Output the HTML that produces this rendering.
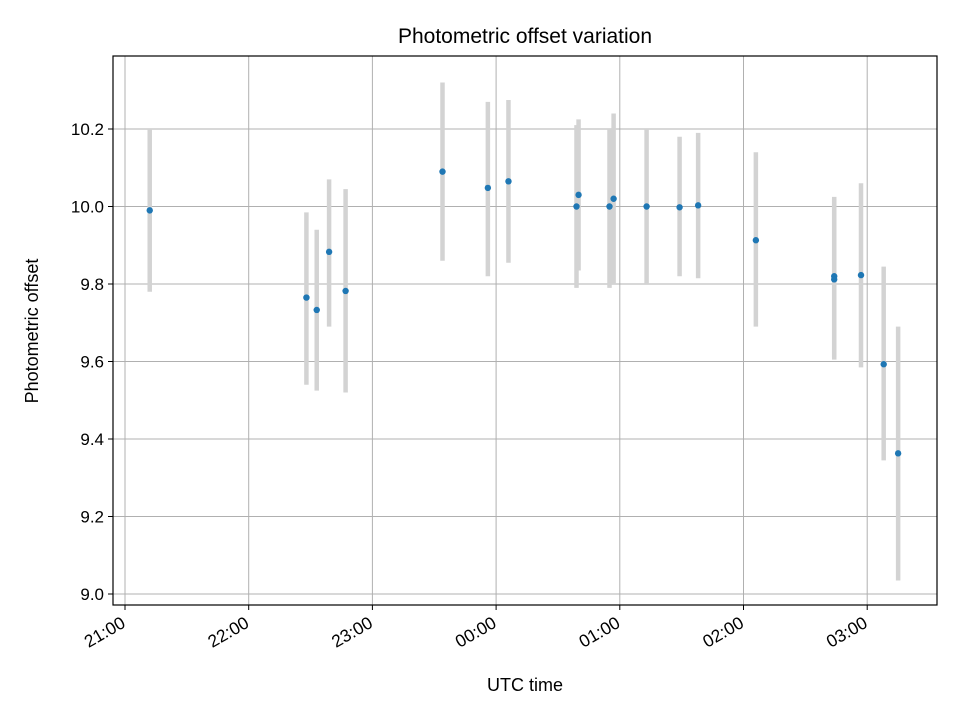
<!DOCTYPE html>
<html><head><meta charset="utf-8"><style>
body{margin:0;background:#fff;}
svg{font-family:"Liberation Sans","DejaVu Sans",sans-serif;}
</style></head><body>
<svg id="chart" width="960" height="720" viewBox="0 0 960 720">
<rect width="960" height="720" fill="#fff"/>
<text x="525" y="43" font-size="21" text-anchor="middle">Photometric offset variation</text>
<g id="grid"></g><g id="bars"></g><g id="pts"></g><g id="axes"></g>
<text x="525" y="691" font-size="18" text-anchor="middle">UTC time</text>
<text transform="translate(38,331) rotate(-90)" font-size="18" text-anchor="middle">Photometric offset</text>
</svg>
<script>
// minutes after 21:00
const times=[12,88,93,99,107,154,176,186,219,220,235,237,253,269,278,306,344,344,357,368,375];
const values=[9.99,9.765,9.733,9.883,9.782,10.09,10.048,10.065,10.0,10.03,10.0,10.02,10.0,9.998,10.003,9.913,9.82,9.812,9.823,9.593,9.363];
const lows=[9.78,9.54,9.525,9.69,9.52,9.86,9.82,9.855,9.79,9.835,9.79,9.8,9.8,9.82,9.815,9.69,9.61,9.605,9.585,9.345,9.035];
const highs=[10.2,9.985,9.94,10.07,10.045,10.32,10.27,10.275,10.21,10.225,10.2,10.24,10.2,10.18,10.19,10.14,10.025,10.02,10.06,9.845,9.69];
const yTicks=[9.0,9.2,9.4,9.6,9.8,10.0,10.2];
const xTickMins=[0,60,120,180,240,300,360];
const xTickLabels=["21:00","22:00","23:00","00:00","01:00","02:00","03:00"];
const L=113,R=937,T=56,B=605;
const xs=m=>125+m*(123.7/60);
const ys=v=>594-(v-9)*387.5;
const NS="http://www.w3.org/2000/svg";
function mk(tag,attrs,parent){const e=document.createElementNS(NS,tag);for(const k in attrs)e.setAttribute(k,attrs[k]);document.getElementById(parent).appendChild(e);return e;}
yTicks.forEach(v=>{
 const g=mk('line',{x1:L,x2:R,y1:ys(v),y2:ys(v),stroke:'#b0b0b0','stroke-width':1},'grid');
 
 
 const t=mk('line',{x1:L-5,x2:L,y1:ys(v),y2:ys(v),stroke:'#000'},'axes');
 
 
 const l=mk('text',{x:L-9,y:ys(v)+6,'font-size':17,'text-anchor':'end'},'axes');
 l.textContent=v.toFixed(1);
 
 
});
xTickMins.forEach((m,i)=>{
 const x=xs(m);
 const g=mk('line',{x1:x,x2:x,y1:T,y2:B,stroke:'#b0b0b0','stroke-width':1},'grid');
 
 
 const t=mk('line',{x1:x,x2:x,y1:B,y2:B+5,stroke:'#000'},'axes');
 
 
 const l=mk('text',{transform:`translate(${x-5},${B+10}) rotate(-30)`,'font-size':17.5,'text-anchor':'end',y:13},'axes');
 l.textContent=xTickLabels[i];
 
 
});
const frame=mk('rect',{x:L,y:T,width:R-L,height:B-T,fill:'none',stroke:'#000','stroke-width':1.2},'axes');


times.forEach((m,i)=>{
 const b=mk('line',{x1:xs(m),x2:xs(m),y1:ys(lows[i]),y2:ys(highs[i]),stroke:'#d3d3d3','stroke-width':4.5},'bars');
 
 
 const p=mk('circle',{cx:xs(m),cy:ys(values[i]),r:3.2,fill:'#1f77b4'},'pts');
 
 
});
</script>
</body></html>
